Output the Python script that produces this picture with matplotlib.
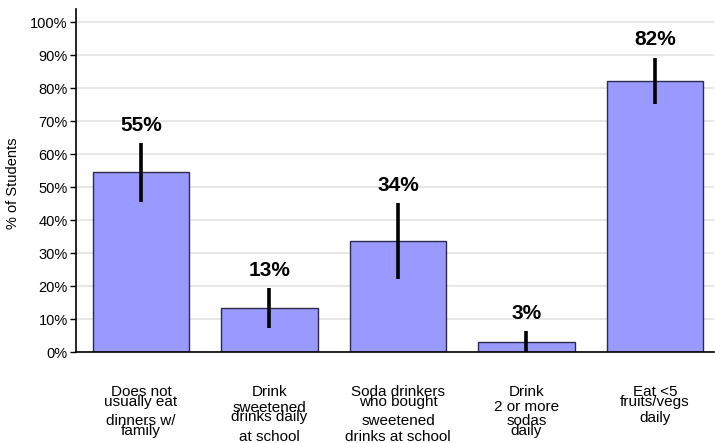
import matplotlib
matplotlib.use("Agg")
import matplotlib.pyplot as plt
from matplotlib.ticker import FuncFormatter

plt.rcParams['font.family'] = ['Liberation Sans', 'DejaVu Sans']

# category labels, split into groups of lines as they are stacked in the picture
categories = [
    ["Does not\nusually eat", "dinners w/\nfamily"],
    ["Drink", "sweetened\ndrinks daily", "at school"],
    ["Soda drinkers\nwho bought", "sweetened", "drinks at school"],
    ["Drink", "2 or more", "sodas\ndaily"],
    ["Eat <5\nfruits/vegs", "daily"],
]
values = [54.7, 13.4, 33.7, 2.9, 82.2]
err_low = [45.5, 7.3, 22.1, 0.0, 75.2]
err_high = [63.4, 19.4, 45.1, 6.3, 89.2]
value_labels = ["55%", "13%", "34%", "3%", "82%"]
yticks = list(range(0, 101, 10))

# pixel offsets (below baseline) of the centre of each label group
group_offsets = [
    [45, 74],
    [40, 60.5, 85],
    [45, 69, 85],
    [40, 55, 74],
    [45, 66],
]

W, H = 715, 443
fig = plt.figure(figsize=(W / 100, H / 100), dpi=100)
ax = fig.add_axes([76 / W, 1 - 352 / H, (714 - 76) / W, (352 - 9) / H])

x = list(range(len(values)))
yerr = [[v - lo for v, lo in zip(values, err_low)], [hi - v for v, hi in zip(values, err_high)]]
ax.bar(x, values, width=0.75, color='#9999ff', edgecolor='#2b2b4a', linewidth=1.0, zorder=2)
ax.errorbar(x, values, yerr=yerr, fmt='none', ecolor='black', elinewidth=2.6, capsize=0, zorder=3)

for xi, hi, lab in zip(x, err_high, value_labels):
    ax.annotate(lab, xy=(xi, hi), xytext=(0, 6), textcoords='offset points',
                ha='center', va='bottom', fontsize=15, fontweight='bold')

ax.set_xlim(-0.506, 4.46)
ax.set_ylim(0, 104)
ax.set_yticks(yticks)
ax.yaxis.set_major_formatter(FuncFormatter(lambda v, p: f"{int(v)}%"))
ax.tick_params(axis='y', length=4, width=1, labelsize=10.5, pad=2, direction='out')
ax.set_xticks([])
ax.grid(axis='y', color='#e3e3e3', linewidth=1.2, zorder=0)
ax.set_axisbelow(True)
for s in ['top', 'right']:
    ax.spines[s].set_visible(False)
ax.spines['left'].set_linewidth(1.2)
ax.spines['bottom'].set_linewidth(1.2)

for xi, groups, offs in zip(x, categories, group_offsets):
    for g, off in zip(groups, offs):
        ax.annotate(g, xy=(xi, 0), xycoords=('data', 'axes fraction'),
                    xytext=(0, -off * 0.72), textcoords='offset points',
                    ha='center', va='center', multialignment='center',
                    fontsize=11, linespacing=0.62)

fig.text(13 / W, 1 - 183 / H, "% of Students", rotation=90, ha='center', va='center', fontsize=10.5)

fig.savefig("out.png", dpi=100)
